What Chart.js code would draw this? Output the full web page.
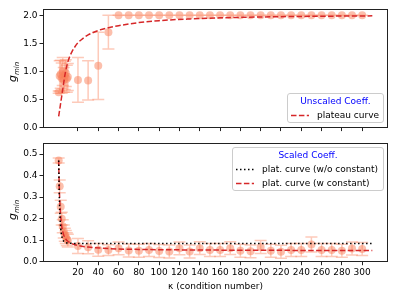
<!DOCTYPE html>
<html>
<head>
<meta charset="utf-8">
<script src="https://cdn.jsdelivr.net/npm/chart.js@4.4.1/dist/chart.umd.min.js"></script>
<style>
  html, body { margin: 0; padding: 0; background: #fff; }
  body { width: 398px; height: 300px; position: relative; overflow: hidden; font-family: 'DejaVu Sans', sans-serif; }
  canvas { position: absolute; left: 0; }
  #topChart { top: 0; }
  #bottomChart { top: 135px; }
  .legend { position: absolute; background: rgba(255, 255, 255, 0.8); border: 1px solid #ccc; border-radius: 3px; box-sizing: border-box; font-size: 9px; color: #000; }
  .legend .row { position: absolute; left: 0; right: 0; height: 11px; line-height: 11px; white-space: nowrap; }
  .legend .title { text-align: center; color: #0000ff; }
  .legend svg { position: absolute; top: 0; }
  .legend .label { position: absolute; }
</style>
</head>
<body>
<canvas id="topChart" width="398" height="135"></canvas>
<canvas id="bottomChart" width="398" height="165"></canvas>

<div class="legend" style="left:287px; top:93px; width:97px; height:30px;">
  <div class="row title" style="top:2px;">Unscaled Coeff.</div>
  <div class="row" style="top:16px;">
    <svg width="24" height="11" style="left:3px;"><line x1="0" y1="5.5" x2="18" y2="5.5" stroke="#d62728" stroke-width="1.5" stroke-dasharray="5.5 2.4"/></svg>
    <span class="label" style="left:29px;">plateau curve</span>
  </div>
</div>

<div class="legend" style="left:232px; top:147px; width:152px; height:44px;">
  <div class="row title" style="top:2px;">Scaled Coeff.</div>
  <div class="row" style="top:16px;">
    <svg width="24" height="11" style="left:3px;"><line x1="0" y1="5.5" x2="18" y2="5.5" stroke="#000" stroke-width="1.5" stroke-dasharray="1.5 2.5"/></svg>
    <span class="label" style="left:29px;">plat. curve (w/o constant)</span>
  </div>
  <div class="row" style="top:30px;">
    <svg width="24" height="11" style="left:3px;"><line x1="0" y1="5.5" x2="18" y2="5.5" stroke="#d62728" stroke-width="1.5" stroke-dasharray="5.5 2.4"/></svg>
    <span class="label" style="left:29px;">plat. curve (w constant)</span>
  </div>
</div>

<script>
// tick labels
const xTicks = [20, 40, 60, 80, 100, 120, 140, 160, 180, 200, 220, 240, 260, 280, 300];
const yTicksTop = [0, 0.5, 1.0, 1.5, 2.0];
const yTicksBottom = [0, 0.1, 0.2, 0.3, 0.4, 0.5];

// measured points (condition number)
const kappa = [1, 2, 3, 4, 5, 6, 7, 8, 9, 10, 20, 30, 40, 50, 60, 70, 80, 90, 100, 110, 120, 130, 140, 150,
  160, 170, 180, 190, 200, 210, 220, 230, 240, 250, 260, 270, 280, 290, 300];

const unscaledG = [0.63, 0.92, 0.95, 0.88, 1.0, 0.85, 0.93, 0.97, 0.87, 0.9, 0.85, 0.84, 1.1, 1.7, 2.0, 2.0,
  2.0, 2.0, 2.0, 2.0, 2.0, 2.0, 2.0, 2.0, 2.0, 2.0, 2.0, 2.0, 2.0, 2.0, 2.0, 2.0, 2.0, 2.0, 2.0, 2.0, 2.0, 2.0, 2.0];
const unscaledErr = [0.02, 0.27, 0.25, 0.27, 0.25, 0.22, 0.25, 0.24, 0.24, 0.24, 0.4, 0.35, 0.6, 0.3, 0, 0,
  0, 0, 0, 0, 0, 0, 0, 0, 0, 0, 0, 0, 0, 0, 0, 0, 0, 0, 0, 0, 0, 0, 0];

const scaledG = [0.47, 0.35, 0.255, 0.2, 0.165, 0.14, 0.125, 0.115, 0.105, 0.098, 0.073, 0.067, 0.055, 0.054,
  0.062, 0.052, 0.051, 0.054, 0.05, 0.047, 0.062, 0.047, 0.063, 0.054, 0.054, 0.063, 0.051, 0.048, 0.068,
  0.051, 0.046, 0.054, 0.054, 0.08, 0.054, 0.054, 0.051, 0.061, 0.059];
const scaledErr = [0.012, 0.03, 0.03, 0.03, 0.03, 0.03, 0.03, 0.03, 0.03, 0.03, 0.035, 0.03, 0.03, 0.025,
  0.03, 0.03, 0.03, 0.03, 0.03, 0.03, 0.03, 0.03, 0.03, 0.03, 0.03, 0.03, 0.03, 0.03, 0.03, 0.03, 0.03,
  0.03, 0.03, 0.035, 0.03, 0.03, 0.03, 0.03, 0.03];

// fitted curves
const plateauKappa = [1, 2, 3, 4, 5, 6, 7, 8, 9, 10, 12, 14, 17, 20, 25, 30, 40, 50, 60, 80, 100, 130, 160, 200, 250, 310];
const plateauG = [0.2, 0.32, 0.44, 0.56, 0.68, 0.8, 0.92, 1.02, 1.1, 1.17, 1.27, 1.35, 1.44, 1.51, 1.59, 1.65,
  1.73, 1.78, 1.815, 1.87, 1.905, 1.935, 1.955, 1.97, 1.982, 1.99];

const scaledCurveKappa = [1, 1.5, 2, 2.5, 3, 4, 5, 6, 8, 10, 15, 20, 30, 50, 80, 120, 200, 310];
const noConstG = [0.47, 0.33, 0.24, 0.19, 0.155, 0.12, 0.103, 0.095, 0.089, 0.087, 0.085, 0.084, 0.084,
  0.084, 0.084, 0.084, 0.084, 0.084];
const withConstG = [0.47, 0.36, 0.29, 0.245, 0.21, 0.165, 0.14, 0.123, 0.105, 0.095, 0.082, 0.075, 0.068,
  0.061, 0.057, 0.055, 0.053, 0.052];

const POINT_COLOR = 'rgba(250, 128, 90, 0.5)';
const ERR_COLOR = 'rgba(250, 128, 90, 0.42)';
const RED = '#d62728';

Chart.defaults.font.family = "'DejaVu Sans', sans-serif";
Chart.defaults.font.size = 9;
Chart.defaults.color = '#000';

const toXY = (xs, ys) => xs.map((x, i) => ({ x, y: ys[i] }));

const errorBars = {
  id: 'errorBars',
  beforeDatasetsDraw(chart) {
    const { ctx, scales: { x, y } } = chart;
    chart.data.datasets.forEach((ds) => {
      if (!ds.errors) return;
      ctx.save();
      ctx.strokeStyle = ERR_COLOR;
      ctx.lineWidth = 1.5;
      ds.data.forEach((p, i) => {
        const e = ds.errors[i];
        const px = x.getPixelForValue(p.x);
        const lo = y.getPixelForValue(p.y - e);
        const hi = y.getPixelForValue(p.y + e);
        ctx.beginPath();
        ctx.moveTo(px, lo);
        ctx.lineTo(px, hi);
        ctx.moveTo(px - 6, lo);
        ctx.lineTo(px + 6, lo);
        ctx.moveTo(px - 6, hi);
        ctx.lineTo(px + 6, hi);
        ctx.stroke();
      });
      ctx.restore();
    });
  }
};

const frameAndLabel = {
  id: 'frameAndLabel',
  afterDraw(chart) {
    const { ctx, chartArea } = chart;
    ctx.save();
    ctx.strokeStyle = '#222';
    ctx.lineWidth = 1;
    ctx.strokeRect(Math.round(chartArea.left) + 0.5, Math.round(chartArea.top) + 0.5,
      Math.round(chartArea.right - chartArea.left) - 1, Math.round(chartArea.bottom - chartArea.top));

    // y axis label g_min
    const cy = chart.options.plugins.frameAndLabel.labelY;
    ctx.translate(16, cy);
    ctx.rotate(-Math.PI / 2);
    ctx.fillStyle = '#000';
    ctx.font = "italic 11px 'DejaVu Sans'";
    const gW = ctx.measureText('g').width;
    ctx.font = "italic 7px 'DejaVu Sans'";
    const sW = ctx.measureText('min').width;
    const x0 = -(gW + sW) / 2;
    ctx.font = "italic 11px 'DejaVu Sans'";
    ctx.fillText('g', x0, 0);
    ctx.font = "italic 7px 'DejaVu Sans'";
    ctx.fillText('min', x0 + gW, 2.5);
    ctx.restore();
  }
};

function axisGrid() {
  return { drawOnChartArea: false, drawTicks: true, tickLength: 3.5, tickWidth: 1, tickColor: '#222' };
}

function buildOptions({ yMax, yTicks, topPad, xHeight, showX, labelY }) {
  return {
    responsive: false,
    animation: false,
    layout: { padding: { top: topPad, right: 10, left: 0, bottom: 0 } },
    plugins: { legend: { display: false }, tooltip: { enabled: false }, frameAndLabel: { labelY } },
    scales: {
      x: {
        type: 'linear',
        min: -14.45,
        max: 325.45,
        grid: axisGrid(),
        border: { display: false },
        afterBuildTicks: (scale) => { scale.ticks = xTicks.map((v) => ({ value: v })); },
        afterFit: (scale) => { scale.height = xHeight; },
        ticks: {
          display: showX,
          padding: 2,
          maxRotation: 0,
          autoSkip: false,
          callback: (v) => String(v)
        },
        title: {
          display: showX,
          text: 'κ (condition number)',
          font: { size: 9 },
          padding: { top: 0, bottom: 8 }
        }
      },
      y: {
        type: 'linear',
        min: 0,
        max: yMax,
        grid: axisGrid(),
        border: { display: false },
        afterBuildTicks: (scale) => { scale.ticks = yTicks.map((v) => ({ value: v })); },
        afterFit: (scale) => { scale.width = 43; },
        ticks: { padding: 2, callback: (v) => Number(v).toFixed(1) }
      }
    }
  };
}

const pointStyle = {
  showLine: false,
  pointRadius: 4,
  pointBorderWidth: 0,
  pointBackgroundColor: POINT_COLOR,
  pointBorderColor: POINT_COLOR,
  order: 2
};

const curveStyle = (color, dash) => ({
  showLine: true,
  borderColor: color,
  borderWidth: 1.5,
  borderDash: dash,
  pointRadius: 0,
  fill: false,
  cubicInterpolationMode: 'monotone',
  order: 1
});

new Chart(document.getElementById('topChart'), {
  type: 'scatter',
  data: {
    datasets: [
      { label: 'unscaled', data: toXY(kappa, unscaledG), errors: unscaledErr, ...pointStyle },
      { label: 'plateau curve', data: toXY(plateauKappa, plateauG), ...curveStyle(RED, [5.5, 2.4]) }
    ]
  },
  options: buildOptions({ yMax: 2.107, yTicks: yTicksTop, topPad: 9.3, xHeight: 7.3, showX: false, labelY: 72 }),
  plugins: [errorBars, frameAndLabel]
});

new Chart(document.getElementById('bottomChart'), {
  type: 'scatter',
  data: {
    datasets: [
      { label: 'scaled', data: toXY(kappa, scaledG), errors: scaledErr, ...pointStyle },
      { label: 'plat. curve (w/o constant)', data: toXY(scaledCurveKappa, noConstG), ...curveStyle('#000', [1.5, 2.5]) },
      { label: 'plat. curve (w constant)', data: toXY(scaledCurveKappa, withConstG), ...curveStyle(RED, [5.5, 2.4]) }
    ]
  },
  options: buildOptions({ yMax: 0.55, yTicks: yTicksBottom, topPad: 8.3, xHeight: 38.3, showX: true, labelY: 75 }),
  plugins: [errorBars, frameAndLabel]
});
</script>
</body>
</html>
